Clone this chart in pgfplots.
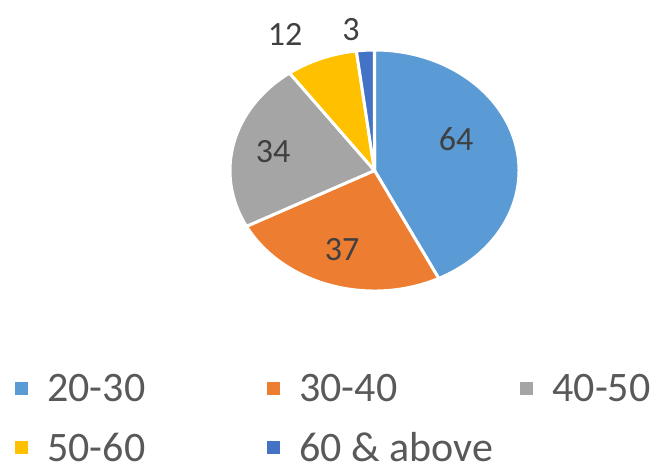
\documentclass[border=0pt]{standalone}
\usepackage{pgfplots}
\pgfplotsset{compat=1.18}
\usepackage{fontspec}
\setmainfont{Carlito}

\definecolor{sBlue}{HTML}{5B9BD5}
\definecolor{sOrange}{HTML}{ED7D31}
\definecolor{sGrey}{HTML}{A5A5A5}
\definecolor{sGold}{HTML}{FFC000}
\definecolor{sDark}{HTML}{4472C4}
\definecolor{txt}{HTML}{595959}
\definecolor{lbl}{HTML}{404040}

% slice values
\def\vA{64}
\def\vB{37}
\def\vC{34}
\def\vD{12}
\def\vE{3}
\pgfmathsetmacro\total{\vA+\vB+\vC+\vD+\vE}
% angles, clockwise from the top
\pgfmathsetmacro\aA{90}
\pgfmathsetmacro\aB{\aA-\vA/\total*360}
\pgfmathsetmacro\aC{\aB-\vB/\total*360}
\pgfmathsetmacro\aD{\aC-\vC/\total*360}
\pgfmathsetmacro\aE{\aD-\vD/\total*360}
\pgfmathsetmacro\aF{\aE-\vE/\total*360}

% pie centre and radii in axis units (1 unit = 0.5pt)
\def\cx{374.5}
\def\cy{301.5}
\newcommand\slice[3]{%
  \fill[#3, draw=white, line width=1.5pt, line join=round]
    (axis cs:\cx,\cy) -- (axis cs:{\cx+144.5*cos(#1)},{\cy+120.5*sin(#1)})
    arc[start angle=#1, end angle=#2, x radius=72.25pt, y radius=60.25pt] -- cycle;}
\newcommand\legitem[4]{%
  \fill[#3] (axis cs:#1,#2-6.5) rectangle (axis cs:#1+13,#2+6.5);
  \node[anchor=west, inner sep=0pt, text=txt, font=\fontsize{21}{25}\selectfont]
    at (axis cs:#1+32,#2) {#4};}

\begin{document}
\begin{tikzpicture}
\begin{axis}[
  hide axis,
  scale only axis,
  width=325.5pt, height=236pt,
  xmin=0, xmax=651, ymin=0, ymax=472,
  clip=false,
]
  \slice{\aA}{\aB}{sBlue}
  \slice{\aB}{\aC}{sOrange}
  \slice{\aC}{\aD}{sGrey}
  \slice{\aD}{\aE}{sGold}
  \slice{\aE}{\aF}{sDark}

  \begin{scope}[every node/.style={text=lbl, inner sep=0pt, font=\fontsize{17}{20}\selectfont}]
    \node at (axis cs:456,333) {\vA};
    \node at (axis cs:342,222) {\vB};
    \node at (axis cs:273,320) {\vC};
    \node at (axis cs:285,438) {\vD};
    \node at (axis cs:351,442) {\vE};
  \end{scope}

  \legitem{15}{84}{sBlue}{20-30}
  \legitem{267}{84}{sOrange}{30-40}
  \legitem{520}{84}{sGrey}{40-50}
  \legitem{15}{25}{sGold}{50-60}
  \legitem{267}{25}{sDark}{60 \& above}
\end{axis}
\pgfresetboundingbox
\path (current axis.south west) rectangle (current axis.north east);
\end{tikzpicture}
\end{document}
